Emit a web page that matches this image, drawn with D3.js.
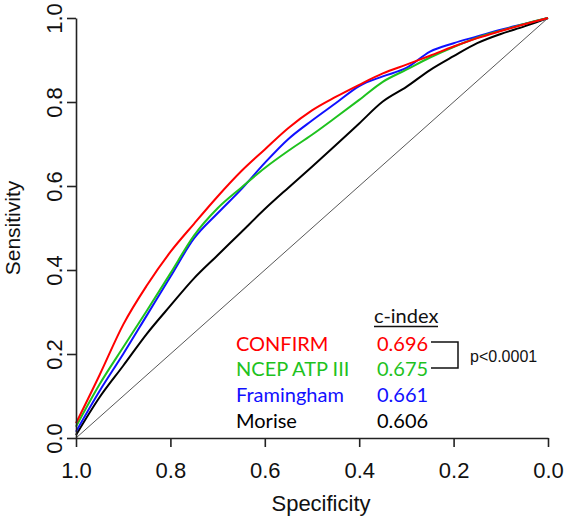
<!DOCTYPE html>
<html><head><meta charset="utf-8">
<script src="https://cdn.jsdelivr.net/npm/d3@7"></script>
<style>
html,body{margin:0;padding:0;background:#fff;}
svg{display:block;}
</style></head>
<body>
<svg id="chart" width="568" height="521"></svg>
<script>
// ---- data ----
const specificity = [1.0,0.95,0.9,0.85,0.8,0.75,0.7,0.65,0.6,0.55,0.5,0.45,0.4,0.35,0.3,0.25,0.2,0.15,0.1,0.05,0.0];
const sensConfirm    = [0.035,0.15,0.27,0.363,0.443,0.51,0.575,0.635,0.687,0.738,0.78,0.812,0.841,0.868,0.889,0.91,0.932,0.952,0.969,0.985,1.0];
const sensNcep       = [0.027,0.128,0.216,0.303,0.392,0.482,0.547,0.596,0.643,0.684,0.722,0.763,0.805,0.848,0.877,0.906,0.931,0.953,0.970,0.986,1.0];
const sensFramingham = [0.015,0.112,0.2,0.292,0.384,0.475,0.535,0.592,0.655,0.712,0.756,0.797,0.838,0.861,0.881,0.92,0.94,0.956,0.972,0.986,1.0];
const sensMorise     = [0.007,0.097,0.172,0.248,0.315,0.38,0.435,0.49,0.545,0.596,0.646,0.697,0.749,0.801,0.836,0.876,0.909,0.94,0.962,0.98,1.0];
const seriesNames  = ["CONFIRM","NCEP ATP III","Framingham","Morise"];
const cIndex       = ["0.696","0.675","0.661","0.606"];
const tickValues   = [0.0,0.2,0.4,0.6,0.8,1.0];
const pValueLabel  = "p<0.0001";

const colors = ["#ff0000","#1ec21e","#1010ff","#000000"];
const sensAll = [sensConfirm, sensNcep, sensFramingham, sensMorise];

const svg = d3.select("#chart");
const x = d3.scaleLinear().domain([1,0]).range([76,548]);
const y = d3.scaleLinear().domain([0,1]).range([438,18]);

// diagonal reference
svg.append("line")
  .attr("x1",x(1)).attr("y1",y(0)).attr("x2",x(0)).attr("y2",y(1))
  .attr("stroke","#444").attr("stroke-width",0.9);

// curves
const line = d3.line().x(d=>x(d[0])).y(d=>y(d[1])).curve(d3.curveMonotoneX);
[3,2,1,0].forEach(i=>{
  const pts = specificity.map((s,j)=>[s,sensAll[i][j]]);
  svg.append("path").datum(pts)
    .attr("d",line).attr("fill","none")
    .attr("stroke",colors[i]).attr("stroke-width",2)
    .attr("stroke-linejoin","round");
});

// axes
const fmt = d3.format(".1f");
const xAxis = svg.append("g").attr("transform",`translate(0,${y(0)})`)
  .call(d3.axisBottom(x).tickValues(tickValues).tickFormat(fmt).tickSize(9).tickSizeOuter(0).tickPadding(15));
const yAxis = svg.append("g").attr("transform",`translate(${x(1)},0)`)
  .call(d3.axisLeft(y).tickValues(tickValues).tickFormat(fmt).tickSize(9).tickSizeOuter(0));
[xAxis,yAxis].forEach(g=>{
  g.select(".domain").attr("stroke","#222").attr("stroke-width",1.6);
  g.selectAll(".tick line").attr("stroke","#222").attr("stroke-width",1.6);
  g.selectAll("text").attr("fill","#111")
    .style("font-family","'Liberation Sans', Arial, sans-serif").style("font-size","22px");
});
yAxis.selectAll(".tick text")
  .attr("x",null).attr("dy",null)
  .attr("text-anchor","middle")
  .attr("transform","translate(-14,0) rotate(-90)");

// axis titles
svg.append("text").attr("x",321).attr("y",511).attr("text-anchor","middle")
  .style("font-family","'Liberation Sans', Arial, sans-serif").style("font-size","22px").attr("fill","#111")
  .text("Specificity");
svg.append("text").attr("transform","translate(20,228) rotate(-90)").attr("text-anchor","middle")
  .style("font-family","'Liberation Sans', Arial, sans-serif").style("font-size","21px").attr("fill","#111")
  .text("Sensitivity");

// legend
const lf = "Lato, 'Open Sans', sans-serif";
const rowY = [351,376,402,428];
svg.append("text").attr("x",374).attr("y",323)
  .style("font-family",lf).style("font-size","20px").attr("fill","#111").text("c-index");
svg.append("line").attr("x1",374).attr("x2",438).attr("y1",326.5).attr("y2",326.5)
  .attr("stroke","#111").attr("stroke-width",1.3);
seriesNames.forEach((n,i)=>{
  svg.append("text").attr("x",236).attr("y",rowY[i])
    .style("font-family",lf).style("font-size","20px").attr("fill",colors[i]).text(n);
  svg.append("text").attr("x",377).attr("y",rowY[i])
    .style("font-family",lf).style("font-size","20px").attr("fill",colors[i]).text(cIndex[i]);
});
// bracket
svg.append("path")
  .attr("d",`M431,342H458V368H431`)
  .attr("fill","none").attr("stroke","#111").attr("stroke-width",1.5);
svg.append("text").attr("x",470).attr("y",362)
  .style("font-family","'Liberation Sans', Arial, sans-serif").style("font-size","16px").attr("fill","#111")
  .text(pValueLabel);
</script>
</body></html>
